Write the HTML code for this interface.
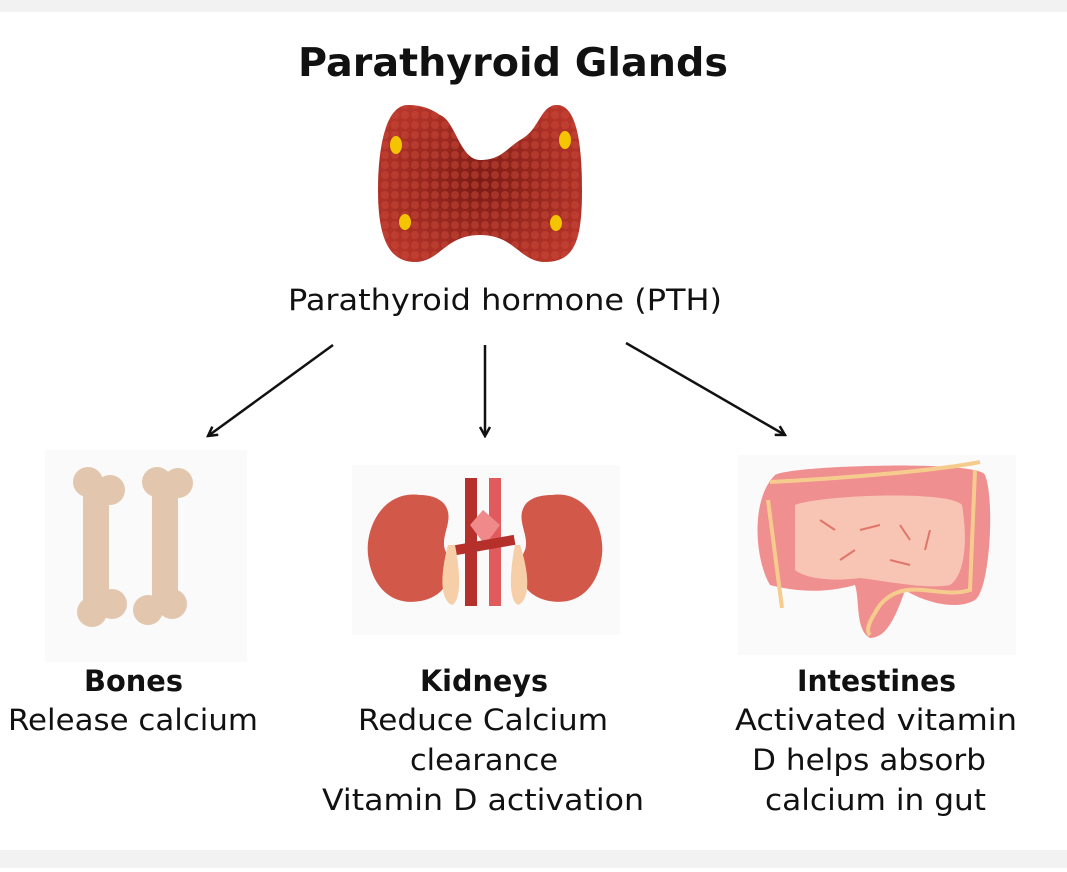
<!DOCTYPE html>
<html><head><meta charset="utf-8"><style>
html,body{margin:0;padding:0;background:#fff;}
body{width:1067px;height:868px;position:relative;overflow:hidden;font-family:"DejaVu Sans","Liberation Sans",sans-serif;}
</style></head><body>
<svg width="1067" height="868" viewBox="0 0 1067 868" xmlns="http://www.w3.org/2000/svg">
<defs>
<pattern id="dots" width="10" height="10" patternUnits="userSpaceOnUse">
<circle cx="5" cy="5" r="4" fill="#c94a3a" opacity="0.5"/>
</pattern>
<radialGradient id="thy" cx="50%" cy="50%" r="60%">
<stop offset="0" stop-color="#7a1a14"/><stop offset="1" stop-color="#b8352a"/>
</radialGradient>
<marker id="ah" markerWidth="12" markerHeight="12" refX="10" refY="6" orient="auto" markerUnits="userSpaceOnUse">
<path d="M1,1 L10,6 L1,11" fill="none" stroke="#111" stroke-width="2.5"/>
</marker>
</defs>
<rect x="0" y="0" width="1067" height="12" fill="#f2f2f2"/>
<rect x="0" y="850" width="1067" height="18" fill="#f2f2f2"/>
<text x="298" y="76" font-size="39" font-weight="bold" fill="#111" textLength="430" lengthAdjust="spacingAndGlyphs">Parathyroid Glands</text>
<g>
<path d="M408,105 C385,105 378,150 378,190 C378,240 390,262 415,262 C440,262 445,235 480,235 C515,235 520,262 545,262 C575,262 582,240 582,190 C582,150 578,105 557,105 C540,105 540,130 520,140 C505,150 500,160 480,160 C460,160 455,120 440,115 C430,108 420,105 408,105 Z" fill="url(#thy)"/>
<path d="M408,105 C385,105 378,150 378,190 C378,240 390,262 415,262 C440,262 445,235 480,235 C515,235 520,262 545,262 C575,262 582,240 582,190 C582,150 578,105 557,105 C540,105 540,130 520,140 C505,150 500,160 480,160 C460,160 455,120 440,115 C430,108 420,105 408,105 Z" fill="url(#dots)"/>
<ellipse cx="396" cy="145" rx="6" ry="9" fill="#f5c400"/>
<ellipse cx="565" cy="140" rx="6" ry="9" fill="#f5c400"/>
<ellipse cx="405" cy="222" rx="6" ry="8" fill="#f5c400"/>
<ellipse cx="556" cy="223" rx="6" ry="8" fill="#f5c400"/>
</g>
<text x="288" y="310" font-size="29" fill="#111" textLength="434" lengthAdjust="spacingAndGlyphs">Parathyroid hormone (PTH)</text>
<line x1="333" y1="345" x2="208" y2="436" stroke="#111" stroke-width="2.5" marker-end="url(#ah)"/>
<line x1="485" y1="345" x2="485" y2="436" stroke="#111" stroke-width="2.5" marker-end="url(#ah)"/>
<line x1="626" y1="343" x2="785" y2="435" stroke="#111" stroke-width="2.5" marker-end="url(#ah)"/>
<rect x="45" y="450" width="202" height="212" fill="#fafafa"/>
<g fill="#e2c7ae">
<rect x="83" y="490" width="26" height="115"/>
<circle cx="88" cy="482" r="15"/><circle cx="110" cy="490" r="15"/>
<circle cx="92" cy="612" r="15"/><circle cx="112" cy="604" r="15"/>
<rect x="152" y="490" width="26" height="115"/>
<circle cx="157" cy="482" r="15"/><circle cx="178" cy="483" r="15"/>
<circle cx="148" cy="610" r="15"/><circle cx="172" cy="604" r="15"/>
</g>
<rect x="352" y="465" width="268" height="170" fill="#fafafa"/>
<path d="M420,495 C385,490 365,525 368,555 C372,590 395,608 425,600 C450,593 455,570 445,550 C440,535 455,520 445,505 C440,498 430,495 420,495 Z" fill="#d2584a"/>
<path d="M552,495 C585,490 605,525 602,555 C598,590 575,608 545,600 C520,593 515,570 525,550 C530,535 515,520 525,505 C530,498 540,495 552,495 Z" fill="#d2584a"/>
<rect x="465" y="478" width="12" height="128" fill="#b5302a"/>
<rect x="489" y="478" width="12" height="128" fill="#e05a5e"/>
<path d="M483,510 L500,525 L485,545 L470,525 Z" fill="#f08a8a"/>
<rect x="455" y="540" width="60" height="10" fill="#b5302a" transform="rotate(-10 485 545)"/>
<path d="M448,545 C440,575 440,600 452,605 C462,600 460,570 455,545 Z" fill="#f6cfa8"/>
<path d="M520,545 C530,575 530,600 518,605 C508,600 510,570 515,545 Z" fill="#f6cfa8"/>
<rect x="738" y="455" width="278" height="200" fill="#fafafa"/>
<path d="M775,475 C790,465 980,460 985,475 C995,500 990,590 975,600 C955,612 920,600 905,590 C895,620 885,638 870,638 C855,630 860,600 855,585 C820,595 790,590 770,585 C755,560 750,500 775,475 Z" fill="#ef8f8f"/>
<path d="M795,505 C820,495 950,490 962,505 C968,540 965,575 950,585 C925,590 880,580 860,578 C830,582 805,578 795,570 Z" fill="#f8c4b4"/>
<path d="M770,482 C850,478 940,470 980,462" stroke="#f6cc8e" stroke-width="4" fill="none"/>
<path d="M768,500 L782,608" stroke="#f6cc8e" stroke-width="4" fill="none"/>
<path d="M975,470 L970,590 C940,600 905,575 880,605 C870,620 865,630 870,635" stroke="#f6cc8e" stroke-width="4" fill="none"/>
<path d="M820,520 l15,10 M860,530 l20,-5 M900,525 l10,15 M840,560 l15,-10 M890,560 l20,5 M930,530 l-5,20" stroke="#e0766a" stroke-width="2" fill="none"/>
<g font-size="29" fill="#111">
<text x="84" y="691" font-weight="bold" textLength="99" lengthAdjust="spacingAndGlyphs">Bones</text>
<text x="8" y="730" textLength="250" lengthAdjust="spacingAndGlyphs">Release calcium</text>
<text x="420" y="691" font-weight="bold" textLength="128" lengthAdjust="spacingAndGlyphs">Kidneys</text>
<text x="358" y="730" textLength="250" lengthAdjust="spacingAndGlyphs">Reduce Calcium</text>
<text x="410" y="770" textLength="148" lengthAdjust="spacingAndGlyphs">clearance</text>
<text x="322" y="810" textLength="322" lengthAdjust="spacingAndGlyphs">Vitamin D activation</text>
<text x="797" y="691" font-weight="bold" textLength="159" lengthAdjust="spacingAndGlyphs">Intestines</text>
<text x="735" y="730" textLength="282" lengthAdjust="spacingAndGlyphs">Activated vitamin</text>
<text x="752" y="770" textLength="234" lengthAdjust="spacingAndGlyphs">D helps absorb</text>
<text x="765" y="810" textLength="221" lengthAdjust="spacingAndGlyphs">calcium in gut</text>
</g>
</svg>
</body></html>
